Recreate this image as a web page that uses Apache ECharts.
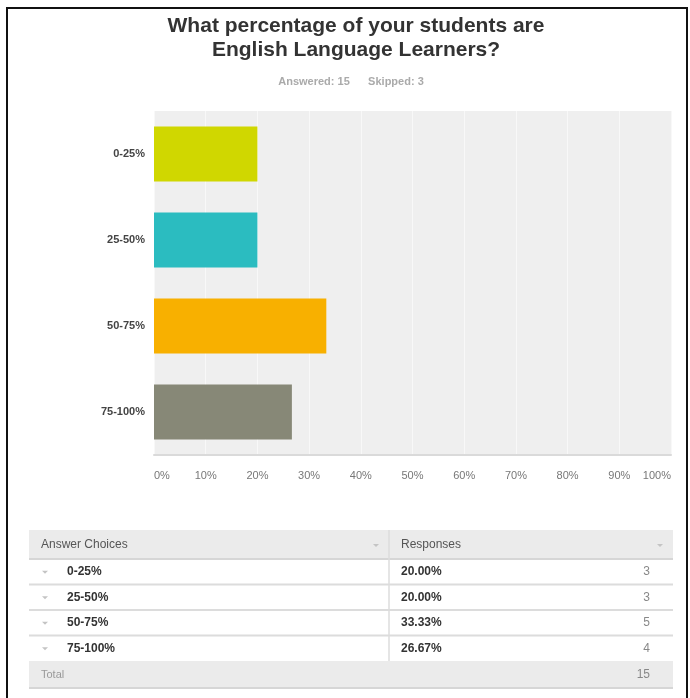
<!DOCTYPE html>
<html>
<head>
<meta charset="utf-8">
<script src="https://cdn.jsdelivr.net/npm/echarts@6/dist/echarts.min.js"></script>
<style>
  html, body { margin: 0; padding: 0; background: #fff; }
  #chart { width: 690px; height: 698px; }
</style>
</head>
<body>
<div id="chart"></div>
<script>
// survey data
const choices = ['0-25%', '25-50%', '50-75%', '75-100%'];
const respPct = [20.00, 20.00, 33.33, 26.67];
const respCount = [3, 3, 5, 4];
const answered = 15;
const skipped = 3;
const xTicks = [0, 10, 20, 30, 40, 50, 60, 70, 80, 90, 100];

const barColors = ['#d0d700', '#2bbcc0', '#f8b000', '#878877'];
const font = 'Liberation Sans, Arial, sans-serif';

const chart = echarts.init(document.getElementById('chart'));

// table under the chart, built from the same arrays
const tbl = { left: 29, right: 673, top: 530, head: 29, row: 25.5, div: 389 };
const graphic = [];

// outer frame
graphic.push({
  type: 'rect', shape: { x: 7, y: 8, width: 680, height: 700 },
  style: { fill: 'none', stroke: '#111', lineWidth: 2 }, z: 10
});

let y0 = tbl.top;
graphic.push({ type: 'rect', shape: { x: tbl.left, y: y0, width: tbl.right - tbl.left, height: tbl.head }, style: { fill: '#ebebeb' } });
graphic.push({ type: 'text', x: 41, y: y0 + tbl.head / 2, style: { text: 'Answer Choices', font: '12px ' + font, fill: '#555', textVerticalAlign: 'middle' } });
graphic.push({ type: 'text', x: 401, y: y0 + tbl.head / 2, style: { text: 'Responses', font: '12px ' + font, fill: '#555', textVerticalAlign: 'middle' } });
[376, 660].forEach(function (ax) {
  graphic.push({ type: 'polygon', shape: { points: [[ax - 3, y0 + 14], [ax + 3, y0 + 14], [ax, y0 + 17]] }, style: { fill: '#c4c4c4' } });
});
graphic.push({ type: 'line', shape: { x1: tbl.left, y1: y0 + tbl.head, x2: tbl.right, y2: y0 + tbl.head }, style: { stroke: '#d6d6d6', lineWidth: 2 } });

let yy = y0 + tbl.head;
choices.forEach(function (c, i) {
  const cy = yy + tbl.row / 2;
  graphic.push({ type: 'polygon', shape: { points: [[42, cy - 1], [48, cy - 1], [45, cy + 2]] }, style: { fill: '#c4c4c4' } });
  graphic.push({ type: 'text', x: 67, y: cy, style: { text: c, font: 'bold 12px ' + font, fill: '#333', textVerticalAlign: 'middle' } });
  graphic.push({ type: 'text', x: 401, y: cy, style: { text: respPct[i].toFixed(2) + '%', font: 'bold 12px ' + font, fill: '#333', textVerticalAlign: 'middle' } });
  graphic.push({ type: 'text', x: 650, y: cy, style: { text: String(respCount[i]), font: '12px ' + font, fill: '#888', textAlign: 'right', textVerticalAlign: 'middle' } });
  yy += tbl.row;
  if (i < choices.length - 1) {
    graphic.push({ type: 'line', shape: { x1: tbl.left, y1: yy, x2: tbl.right, y2: yy }, style: { stroke: '#dcdcdc', lineWidth: 2 } });
  }
});
// column divider
graphic.push({ type: 'line', shape: { x1: tbl.div, y1: y0, x2: tbl.div, y2: yy }, style: { stroke: '#dcdcdc', lineWidth: 1.5 } });
// total row
graphic.push({ type: 'rect', shape: { x: tbl.left, y: yy, width: tbl.right - tbl.left, height: 27 }, style: { fill: '#ebebeb' } });
graphic.push({ type: 'line', shape: { x1: tbl.left, y1: yy + 27, x2: tbl.right, y2: yy + 27 }, style: { stroke: '#d6d6d6', lineWidth: 2 } });
graphic.push({ type: 'text', x: 41, y: yy + 13.5, style: { text: 'Total', font: '11px ' + font, fill: '#999', textVerticalAlign: 'middle' } });
graphic.push({ type: 'text', x: 650, y: yy + 13.5, style: { text: String(answered), font: '12px ' + font, fill: '#888', textAlign: 'right', textVerticalAlign: 'middle' } });

const option = {
  animation: false,
  backgroundColor: '#fff',
  textStyle: { fontFamily: font },
  title: [
    {
      text: 'What percentage of your students are\nEnglish Language Learners?',
      left: 351, top: 9, textAlign: 'center',
      textStyle: { fontSize: 21, fontWeight: 'bold', color: '#333', lineHeight: 24, fontFamily: font }
    },
    {
      text: 'Answered: ' + answered + '      Skipped: ' + skipped,
      left: 351, top: 76, padding: 0, textAlign: 'center',
      textStyle: { fontSize: 11, fontWeight: 'bold', color: '#aaa', fontFamily: font }
    }
  ],
  grid: {
    left: 154, right: 19, top: 111, bottom: 243,
    show: true, backgroundColor: '#efefef', borderWidth: 0
  },
  xAxis: {
    type: 'value', min: xTicks[0], max: xTicks[xTicks.length - 1], interval: 10,
    axisLine: { show: true, lineStyle: { color: '#dadada', width: 2 } },
    axisTick: { show: false },
    splitLine: { show: true, lineStyle: { color: '#f8f8f8', width: 1 } },
    axisLabel: {
      formatter: '{value}%', color: '#777', fontSize: 11, margin: 15,
      alignMinLabel: 'left', alignMaxLabel: 'right'
    }
  },
  yAxis: {
    type: 'category', data: choices, inverse: true,
    axisLine: { show: false }, axisTick: { show: false },
    axisLabel: { color: '#444', fontSize: 11, fontWeight: 'bold', margin: 9 }
  },
  series: [{
    type: 'bar',
    data: respPct,
    barCategoryGap: '36%',
    itemStyle: {
      color: function (p) { return barColors[p.dataIndex]; }
    }
  }],
  graphic: graphic
};

chart.setOption(option);
</script>
</body>
</html>
